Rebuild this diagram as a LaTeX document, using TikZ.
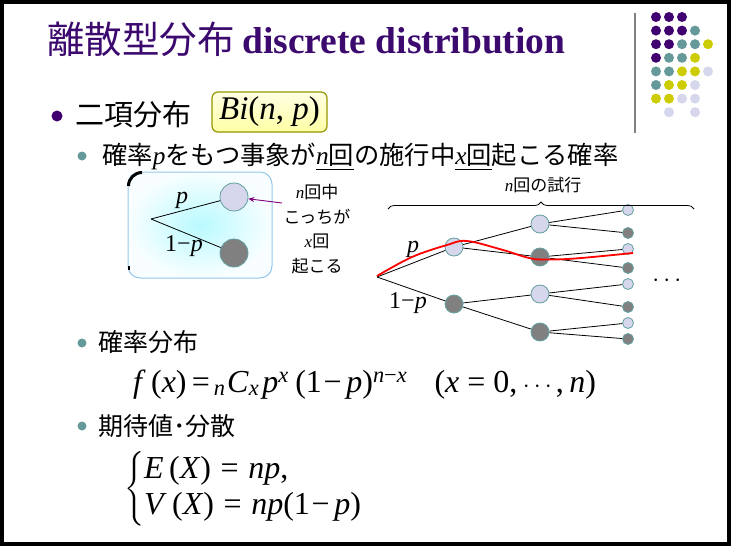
\documentclass[tikz,border=0pt]{standalone}
\usepackage{amsmath}
\usepackage{fontspec}
\setmainfont{Liberation Serif}
\newfontfamily\jpfont{Noto Sans CJK JP}
\usetikzlibrary{arrows.meta, decorations.pathreplacing, calc, positioning}

\definecolor{titlepurple}{RGB}{60,10,110}
\definecolor{dotP}{RGB}{64,0,112}
\definecolor{dotT}{RGB}{102,153,153}
\definecolor{dotY}{RGB}{204,204,0}
\definecolor{dotL}{RGB}{214,214,236}
\definecolor{ballgray}{RGB}{128,128,128}
\definecolor{rimteal}{RGB}{100,160,160}
\definecolor{insetrim}{RGB}{150,200,235}
\definecolor{insetglow}{RGB}{185,250,255}
\definecolor{notepurple}{RGB}{128,0,128}
\definecolor{birim}{RGB}{150,150,0}

\newcommand\vi[1]{\textnormal{\itshape #1}}

\tikzset{
  jptext/.style={font=\jpfont\fontsize{25}{30}\selectfont, inner sep=0pt, anchor=base west},
  jpsmall/.style={font=\jpfont\fontsize{17}{24.5}\selectfont, inner sep=0pt},
  mathtext/.style={font=\rmfamily\fontsize{32}{36}\selectfont, inner sep=0pt, anchor=base west},
  plabel/.style={font=\rmfamily\fontsize{24}{28}\selectfont, inner sep=0pt},
  branch/.style={black, line width=0.8pt},
  lball/.style={circle, draw=rimteal, fill=dotL, line width=0.8pt, minimum size=18pt, inner sep=0pt},
  dball/.style={circle, draw=rimteal, fill=ballgray, line width=0.8pt, minimum size=18pt, inner sep=0pt},
  lsmall/.style={lball, minimum size=11pt},
  dsmall/.style={dball, minimum size=11pt},
}

\begin{document}
\begin{tikzpicture}[x=1pt, y=-1pt]
    \useasboundingbox (0,0) rectangle (731,546);

    % Frame
    \draw[line width=4pt] (2,2) rectangle (729,544);

    % Title
    \node[jptext, font=\jpfont\fontsize{37.5}{40}\selectfont, text=titlepurple] (title) at (47,53)
        {離散型分布\hspace{0.2em}{\rmfamily\bfseries\fontsize{37.5}{40}\selectfont discrete distribution}};

    % Dots in the corner
    \draw[gray, line width=2pt] (635,13) -- (635,133);
    \foreach \row/\y in {{dotP,dotP,dotP}/17,
                         {dotP,dotP,dotP,dotT}/30.6,
                         {dotP,dotP,dotT,dotT,dotY}/44.2,
                         {dotP,dotT,dotT,dotY}/57.8,
                         {dotT,dotT,dotY,dotY,dotL}/71.4,
                         {dotT,dotY,dotY,dotL}/85,
                         {dotY,dotY,dotL,dotL}/98.6,
                         {white,dotL,white,dotL}/112.2} {
        \foreach \c [count=\i] in \row {
            \fill[\c] ({656+13*(\i-1)},\y) circle (5pt);
        }
    }

    % Bullets
    \fill[dotP] (57,116) circle (5.5pt);
    \foreach \y in {156,343,426} {
        \fill[dotT] (82,\y) circle (4.5pt);
    }

    % Binomial
    \node[jptext, font=\jpfont\fontsize{29}{32}\selectfont] (binom) at (75.5,125) {二項分布};
    \node[draw=birim, line width=1.2pt, rounded corners=6pt,
          top color={rgb,255:red,255;green,255;blue,228}, bottom color={rgb,255:red,255;green,255;blue,165},
          minimum width=115pt, minimum height=40pt, inner sep=0pt,
          font=\rmfamily\fontsize{33}{36}\selectfont] (bibox) at (269.5,112) {\vi{Bi}(\vi{n}, \vi{p})};

    \node[jptext, font=\jpfont\fontsize{25.3}{30}\selectfont] (event) at (102,164.5)
        {確率\vi{p}をもつ事象が\underline{\vi{n}回}の施行中\underline{\vi{x}回}起こる確率};

    % Inset with one trial
    \shade[rounded corners=12pt, inner color=insetglow, outer color={rgb,255:red,248;green,254;blue,255}]
        (128,172) rectangle (272,278);
    \draw[insetrim, line width=1pt, rounded corners=12pt] (128,172) rectangle (272,278);
    \draw[line width=3pt] (128.5,186) arc (180:270:13.5);
    \draw[line width=2pt] (128.5,266) -- (128.5,270);

    \coordinate (s0) at (151,219);
    \node[lball, minimum size=28pt] (sp) at (234,197) {};
    \node[dball, minimum size=28pt] (sq) at (234,253) {};
    \draw[branch] (s0) -- (sp);
    \draw[branch] (s0) -- (sq);
    \node[plabel] (slp) at (182,200) {\vi{p}};
    \node[plabel] (slq) at (184,246) {1−\vi{p}};

    \coordinate (arrtail) at (282,203);
    \draw[notepurple, line width=0.9pt, -{Stealth[length=6pt, width=5pt]}] (arrtail) -- (sp);
    \node[jpsmall, align=center] (note) at (317,229) {\vi{n}回中\\こっちが\\\vi{x}回\\起こる};

    % Tree of n trials
    \coordinate (r0) at (377,277);
    \node[lball] (a1) at (454,247) {};
    \node[dball] (a2) at (454,304) {};
    \foreach \n/\y/\s in {b1/224/lball, b2/257/dball, b3/294/lball, b4/332/dball} {
        \node[\s] (\n) at (540,\y) {};
    }
    \foreach \n/\y/\s in {c1/210/lsmall, c2/233/dsmall, c3/249/lsmall, c4/268/dsmall,
                          c5/284/lsmall, c6/307/dsmall, c7/323/lsmall, c8/339/dsmall} {
        \node[\s] (\n) at (628,\y) {};
    }
    \foreach \p/\q in {r0/a1, r0/a2, a1/b1, a1/b2, a2/b3, a2/b4,
                       b1/c1, b1/c2, b2/c3, b2/c4, b3/c5, b3/c6, b4/c7, b4/c8} {
        \draw[branch] (\p) -- (\q);
    }
    \node[plabel] (tlp) at (413,249) {\vi{p}};
    \node[plabel] (tlq) at (408,303) {1−\vi{p}};
    \node[plabel, font=\rmfamily\fontsize{28}{28}\selectfont] (more) at (669,281) {$\cdots$};

    \draw[red, line width=1.8pt] plot[smooth, tension=0.6] coordinates
        {(377,276) (412,257) (447,245) (467,241) (503,250) (527,257.5) (542,259.5) (575,258.5) (633,253)};

    \coordinate (bl) at (388,209);
    \coordinate (br) at (694,209);
    \draw[line width=0.8pt, decorate, decoration={brace, amplitude=7pt}] (bl) -- (br);
    \node[jpsmall] (trials) at (543,185) {\vi{n}回の試行};

    % Distribution
    \node[jptext] (distr) at (98,351.5) {確率分布};
    \node[mathtext] (pmf) at (133,392)
        {\vi{f}\,(\vi{x})\,=\hspace{0.12em}$_{\vi{n}}$\hspace{0.05em}\vi{C}$_{\vi{x}}$\hspace{0.1em}\vi{p}$^{\vi{x}}$\hspace{0.2em}(1\hspace{0.05em}−\hspace{0.15em}\vi{p})$^{\vi{n}−\vi{x}}$\hspace{0.85em}(\vi{x} = 0,\,$\cdots$,\,\vi{n})};

    % Mean and variance
    \node[jptext] (moments) at (98,435.5) {期待値･分散};
    \node[mathtext, anchor=west] (cases) at (124,489)
        {$\left\{\begin{array}{@{}l@{}}
            \text{\vi{E}\,(\vi{X})\hspace{0.3em}=\hspace{0.3em}\vi{np},}\\
            \text{\vi{V}\,(\vi{X})\hspace{0.3em}=\hspace{0.3em}\vi{np}(1\hspace{0.05em}−\hspace{0.15em}\vi{p})}
         \end{array}\right.$};

\end{tikzpicture}
\end{document}
